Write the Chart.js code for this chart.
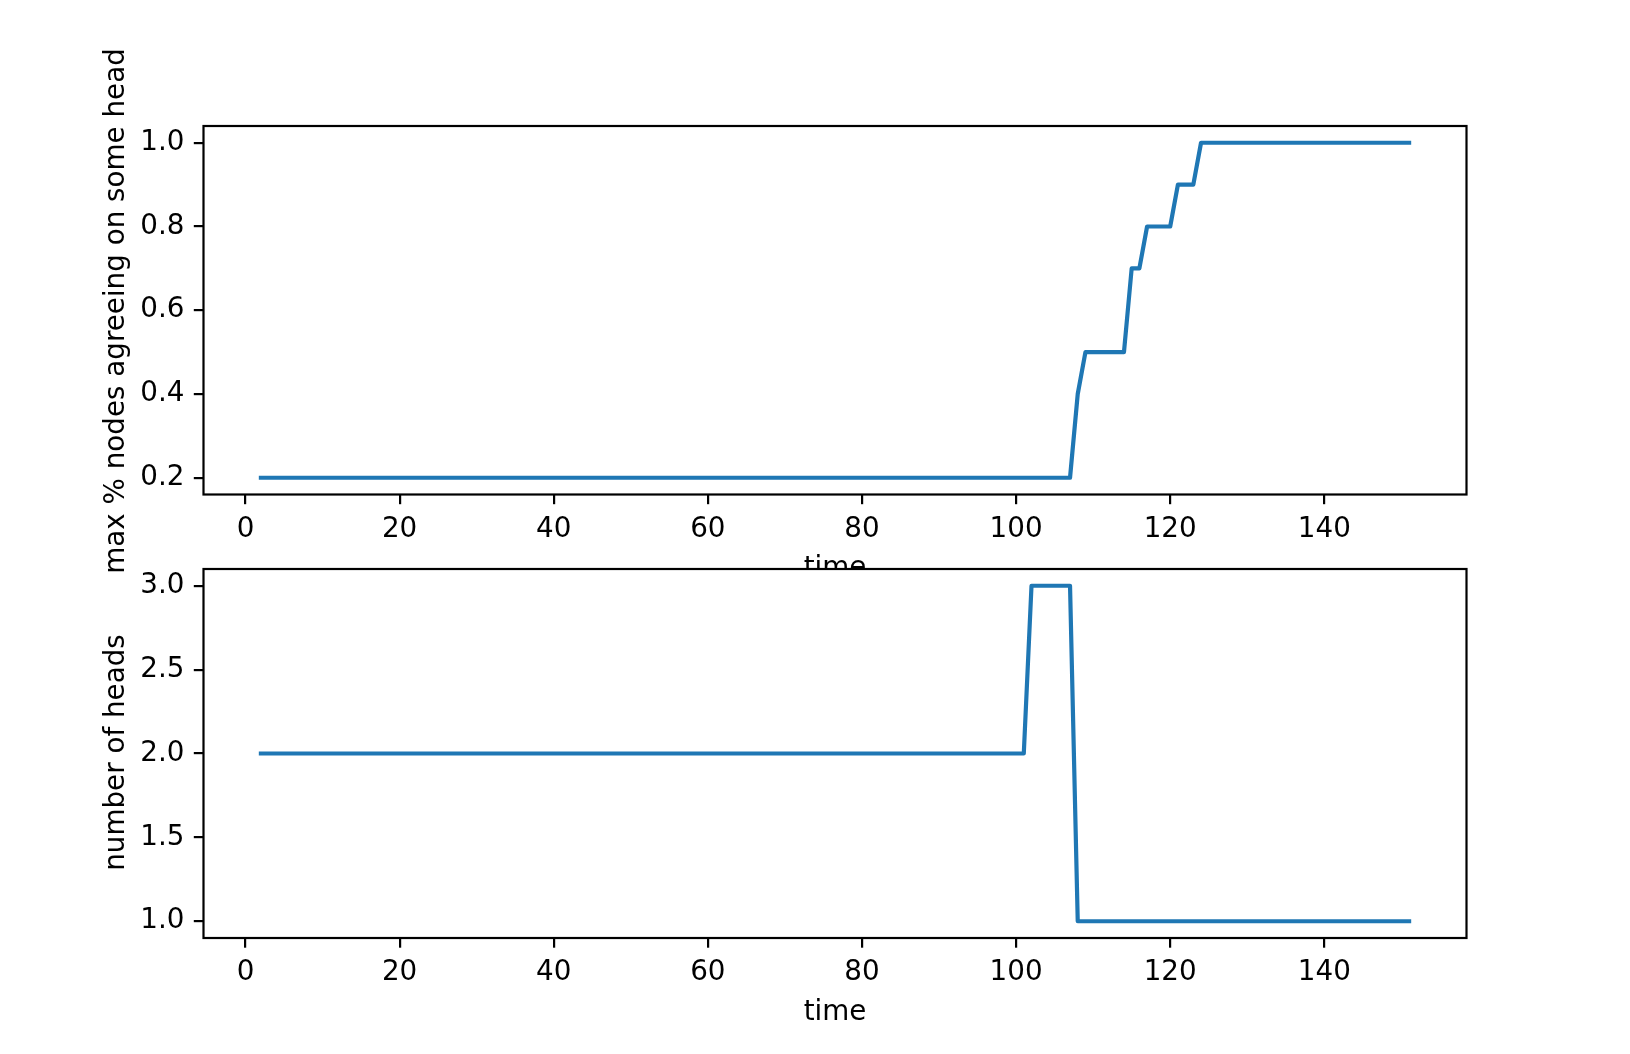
<!DOCTYPE html>
<html><head><meta charset="utf-8">
<script src="https://cdn.jsdelivr.net/npm/chart.js@4"></script>
<style>
html,body{margin:0;padding:0;background:#fff;}
#wrap{position:relative;width:1630px;height:1054px;overflow:hidden;}
canvas{position:absolute;left:0;top:0;}
</style></head><body>
<div id="wrap">
<canvas id="c1" width="1630" height="1054"></canvas>
<canvas id="c2" width="1630" height="1054"></canvas>
</div>
<script>
// ---------- data ----------
const timeSteps = [
  2,3,4,5,6,7,8,9,10,11,
  12,13,14,15,16,17,18,19,20,21,
  22,23,24,25,26,27,28,29,30,31,
  32,33,34,35,36,37,38,39,40,41,
  42,43,44,45,46,47,48,49,50,51,
  52,53,54,55,56,57,58,59,60,61,
  62,63,64,65,66,67,68,69,70,71,
  72,73,74,75,76,77,78,79,80,81,
  82,83,84,85,86,87,88,89,90,91,
  92,93,94,95,96,97,98,99,100,101,
  102,103,104,105,106,107,108,109,110,111,
  112,113,114,115,116,117,118,119,120,121,
  122,123,124,125,126,127,128,129,130,131,
  132,133,134,135,136,137,138,139,140,141,
  142,143,144,145,146,147,148,149,150,151
];
const maxAgreeing = [
  0.2,0.2,0.2,0.2,0.2,0.2,0.2,0.2,0.2,0.2,
  0.2,0.2,0.2,0.2,0.2,0.2,0.2,0.2,0.2,0.2,
  0.2,0.2,0.2,0.2,0.2,0.2,0.2,0.2,0.2,0.2,
  0.2,0.2,0.2,0.2,0.2,0.2,0.2,0.2,0.2,0.2,
  0.2,0.2,0.2,0.2,0.2,0.2,0.2,0.2,0.2,0.2,
  0.2,0.2,0.2,0.2,0.2,0.2,0.2,0.2,0.2,0.2,
  0.2,0.2,0.2,0.2,0.2,0.2,0.2,0.2,0.2,0.2,
  0.2,0.2,0.2,0.2,0.2,0.2,0.2,0.2,0.2,0.2,
  0.2,0.2,0.2,0.2,0.2,0.2,0.2,0.2,0.2,0.2,
  0.2,0.2,0.2,0.2,0.2,0.2,0.2,0.2,0.2,0.2,
  0.2,0.2,0.2,0.2,0.2,0.2,0.4,0.5,0.5,0.5,
  0.5,0.5,0.5,0.7,0.7,0.8,0.8,0.8,0.8,0.9,
  0.9,0.9,1.0,1.0,1.0,1.0,1.0,1.0,1.0,1.0,
  1.0,1.0,1.0,1.0,1.0,1.0,1.0,1.0,1.0,1.0,
  1.0,1.0,1.0,1.0,1.0,1.0,1.0,1.0,1.0,1.0
];
const numHeads = [
  2,2,2,2,2,2,2,2,2,2,
  2,2,2,2,2,2,2,2,2,2,
  2,2,2,2,2,2,2,2,2,2,
  2,2,2,2,2,2,2,2,2,2,
  2,2,2,2,2,2,2,2,2,2,
  2,2,2,2,2,2,2,2,2,2,
  2,2,2,2,2,2,2,2,2,2,
  2,2,2,2,2,2,2,2,2,2,
  2,2,2,2,2,2,2,2,2,2,
  2,2,2,2,2,2,2,2,2,2,
  3,3,3,3,3,3,1,1,1,1,
  1,1,1,1,1,1,1,1,1,1,
  1,1,1,1,1,1,1,1,1,1,
  1,1,1,1,1,1,1,1,1,1,
  1,1,1,1,1,1,1,1,1,1
];
const xTicks = [0,20,40,60,80,100,120,140];
const yTicksTop = [0.2,0.4,0.6,0.8,1.0];
const yTicksBottom = [1.0,1.5,2.0,2.5,3.0];
const xTitle = 'time';
const yTitleTop = 'max % nodes agreeing on some head';
const yTitleBottom = 'number of heads';

// ---------- styling ----------
const FONT = 'DejaVu Sans';
const FS = 27.78;
const LINE_COLOR = '#1f77b4';
const TICK_LEN = 9.7;
const W = 1630, H = 1054;
const AX_LEFT = 203.5, AX_RIGHT = 1466.5;

function makeChart(canvasId, values, yTicks, yMin, yMax, top, bottom, yTitle, yTitleCenter, whiteBg) {
  const framePlugin = {
    id: 'frame' + canvasId,
    beforeDraw(chart) {
      if (!whiteBg) return;
      const a = chart.chartArea, ctx = chart.ctx;
      ctx.save();
      ctx.fillStyle = '#ffffff';
      ctx.fillRect(a.left, a.top, a.right - a.left, a.bottom - a.top);
      ctx.restore();
    },
    afterDraw(chart) {
      const a = chart.chartArea, ctx = chart.ctx;
      ctx.save();
      ctx.strokeStyle = '#000';
      ctx.lineWidth = 2.2;
      ctx.strokeRect(a.left, a.top, a.right - a.left, a.bottom - a.top);
      ctx.fillStyle = '#000';
      ctx.font = FS + 'px "' + FONT + '"';
      ctx.textAlign = 'center';
      ctx.textBaseline = 'alphabetic';
      ctx.fillText(xTitle, (a.left + a.right) / 2, a.bottom + 81.5);
      ctx.translate(123.5, yTitleCenter);
      ctx.rotate(-Math.PI / 2);
      ctx.fillText(yTitle, 0, 0);
      ctx.restore();
    }
  };
  return new Chart(document.getElementById(canvasId), {
    type: 'line',
    data: {
      datasets: [{
        data: timeSteps.map((t, i) => ({x: t, y: values[i]})),
        borderColor: LINE_COLOR,
        borderWidth: 4.2,
        pointRadius: 0,
        tension: 0,
        fill: false,
        borderJoinStyle: 'round',
        borderCapStyle: 'square'
      }]
    },
    options: {
      responsive: false,
      animation: false,
      devicePixelRatio: 1,
      layout: {padding: {left: 0, top: top, right: W - AX_RIGHT, bottom: 0}},
      plugins: {legend: {display: false}, tooltip: {enabled: false}},
      scales: {
        x: {
          type: 'linear',
          min: -5.45, max: 158.45,
          afterBuildTicks: s => { s.ticks = xTicks.map(v => ({value: v})); },
          afterFit: s => { s.height = H - bottom; },
          grid: {drawOnChartArea: false, drawTicks: true, tickLength: TICK_LEN, color: '#000', lineWidth: 2.2},
          border: {display: false},
          ticks: {color: '#000', font: {family: FONT, size: FS}, padding: 8.5, maxRotation: 0,
                  callback: v => String(v)}
        },
        y: {
          type: 'linear',
          min: yMin, max: yMax,
          afterBuildTicks: s => { s.ticks = yTicks.map(v => ({value: v})); },
          afterFit: s => { s.width = AX_LEFT; },
          grid: {drawOnChartArea: false, drawTicks: true, tickLength: TICK_LEN, color: '#000', lineWidth: 2.2},
          border: {display: false},
          ticks: {color: '#000', font: {family: FONT, size: FS}, padding: 9.3,
                  callback: v => Number(v).toFixed(1)}
        }
      }
    },
    plugins: [framePlugin]
  });
}

makeChart('c1', maxAgreeing, yTicksTop, 0.16, 1.04, 126, 494.5, yTitleTop, 311, false);
makeChart('c2', numHeads, yTicksBottom, 0.9, 3.1, 569, 938, yTitleBottom, 752.5, true);
</script>
</body></html>
